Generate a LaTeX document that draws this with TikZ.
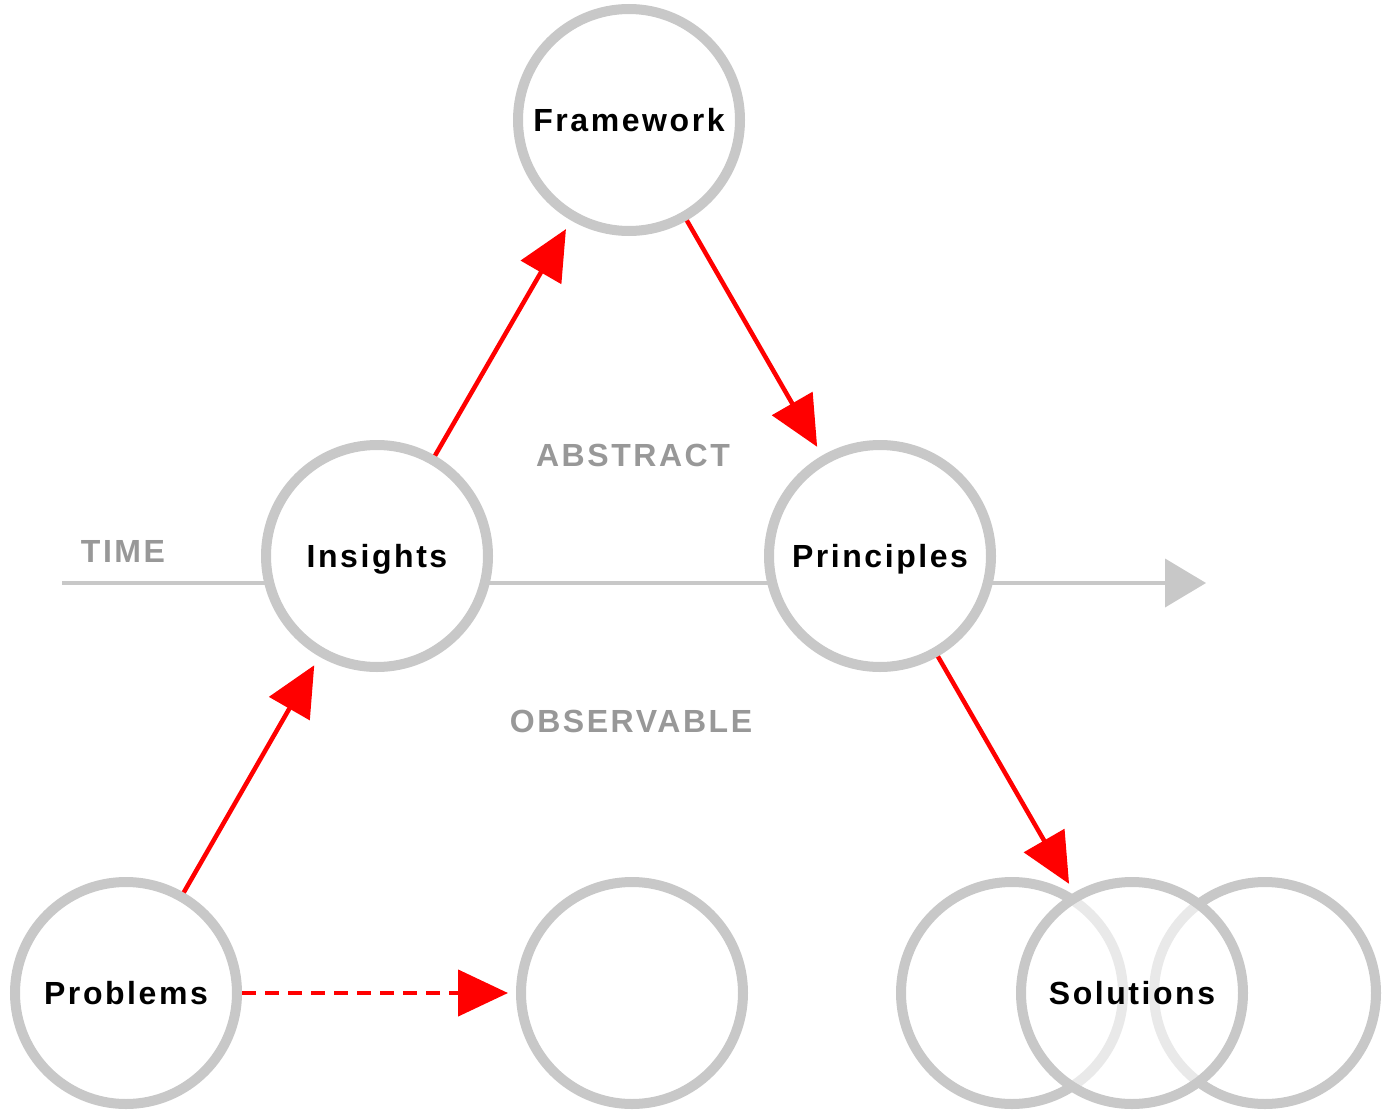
\documentclass[tikz,border=0pt]{standalone}
\usepackage{fontspec}
\setmainfont{Liberation Sans}
\newfontfamily\spacedfont[LetterSpace=8]{Liberation Sans}
\usetikzlibrary{arrows.meta}
\definecolor{ringgray}{RGB}{200,200,200}
\definecolor{labelgray}{RGB}{152,152,152}
\definecolor{arrowred}{RGB}{255,0,0}
\begin{document}
\begin{tikzpicture}[x=1pt,y=-1pt,
  ring/.style={circle, draw=ringgray, line width=10pt, fill=white,
    minimum size=222pt, inner sep=0pt, text=black,
    text height=23pt, text depth=0pt,
    font={\spacedfont\bfseries\fontsize{32}{38}\selectfont}},
  axislabel/.style={text=labelgray, inner sep=0pt,
    text height=23pt, text depth=0pt,
    font={\spacedfont\bfseries\fontsize{32}{38}\selectfont}},
  flow/.style={draw=arrowred, line width=4.5pt,
    -{Triangle[length=50pt,width=46pt]}, shorten >=10pt},
  timeaxis/.style={draw=ringgray, line width=4pt,
    -{Triangle[length=41pt,width=48pt]}}
]
\useasboundingbox (0,0) rectangle (1397,1118);
\fill[white] (0,0) rectangle (1397,1118);

% time axis (behind the rings)
\coordinate (tstart) at (62,583);
\coordinate (tend) at (1206,583);
\draw[timeaxis] (tstart) -- (tend);

% labels
\node[axislabel] (time) at (123,551) {TIME};
\node[axislabel] (abstract) at (633,455) {ABSTRACT};
\node[axislabel] (observable) at (631,721) {OBSERVABLE};

% rings
\node[ring] (framework) at (629,120) {Framework};
\node[ring] (insights) at (377,556) {Insights};
\node[ring] (principles) at (880,556) {Principles};
\node[ring] (problems) at (126,993) {Problems};
\node[ring] (empty) at (632,993) {};
\node[ring] (solleft) at (1012,993) {};
\node[ring] (solright) at (1265,993) {};
\node[ring, fill opacity=0.6, draw opacity=1, text opacity=1] (solutions) at (1132,993) {Solutions};

% flows
\draw[flow] (problems) -- (insights);
\draw[flow] (insights) -- (framework);
\draw[flow] (framework) -- (principles);
\draw[flow] (principles) -- (solutions);
\draw[flow, dash pattern=on 14pt off 9pt, shorten >=8pt] (problems) -- (empty);
\end{tikzpicture}
\end{document}
